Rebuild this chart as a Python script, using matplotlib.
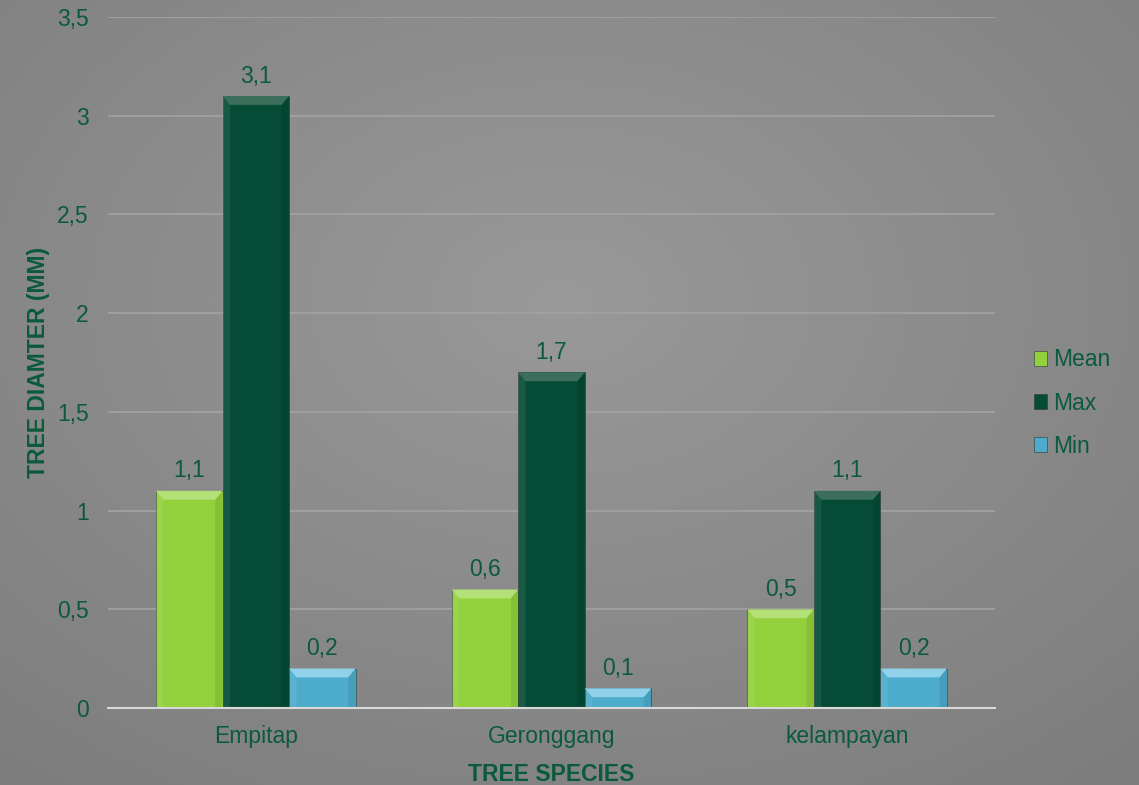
import numpy as np
import matplotlib
matplotlib.use("Agg")
import matplotlib.pyplot as plt
from matplotlib.patches import Polygon

categories = ["Empitap", "Geronggang", "kelampayan"]
series_names = ["Mean", "Max", "Min"]
mean_vals = [1.1, 0.6, 0.5]
max_vals = [3.1, 1.7, 1.1]
min_vals = [0.2, 0.1, 0.2]
value_labels = {"Mean": ["1,1", "0,6", "0,5"], "Max": ["3,1", "1,7", "1,1"], "Min": ["0,2", "0,1", "0,2"]}
yticks = [0, 0.5, 1, 1.5, 2, 2.5, 3, 3.5]
ytick_labels = ["0", "0,5", "1", "1,5", "2", "2,5", "3", "3,5"]

plt.rcParams['font.family'] = ['Liberation Sans', 'DejaVu Sans']
txt = "#0b5a3c"
colors = {"Mean": "#92d13c", "Max": "#054b36", "Min": "#4daccc"}
tops = {"Mean": "#b4e078", "Max": "#3c6e5c", "Min": "#8fd2ea"}
FS = 16.5

fig = plt.figure(figsize=(11.39, 7.85), dpi=100)
bg = fig.add_axes([0, 0, 1, 1])
yy, xx = np.mgrid[0:785, 0:1139]
r = np.sqrt(((xx - 560) / 800.0) ** 2 + ((yy - 300) / 560.0) ** 2)
g = np.clip(0.60 - 0.10 * r, 0.49, 0.60)
bg.imshow(np.dstack([g, g, g]), aspect='auto', extent=[0, 1, 0, 1])
bg.set_axis_off()

ax = fig.add_axes([108 / 1139, 1 - 708 / 785, (995 - 108) / 1139, (708 - 17) / 785])
ax.set_facecolor('none')
x = np.arange(len(categories))
w = 0.225
data = {"Mean": mean_vals, "Max": max_vals, "Min": min_vals}
handles = []
for i, name in enumerate(series_names):
    bars = ax.bar(x + (i - 1) * w, data[name], w, color=colors[name], zorder=3,
                  edgecolor='#2a3a30', linewidth=0.4, label=name)
    handles.append(bars)
    for b, lab in zip(bars, value_labels[name]):
        bx, bw, bh = b.get_x(), b.get_width(), b.get_height()
        dx, dy = 0.025, 0.045
        dy2 = min(dy, bh / 2)
        ax.add_patch(Polygon([(bx, bh), (bx + bw, bh), (bx + bw - dx, bh - dy2), (bx + dx, bh - dy2)],
                             closed=True, facecolor=tops[name], edgecolor='none', zorder=4))
        ax.add_patch(Polygon([(bx, 0), (bx, bh), (bx + dx, bh - dy2), (bx + dx, 0)],
                             closed=True, facecolor='white', alpha=0.08, edgecolor='none', zorder=4))
        ax.add_patch(Polygon([(bx + bw, 0), (bx + bw, bh), (bx + bw - dx, bh - dy2), (bx + bw - dx, 0)],
                             closed=True, facecolor='black', alpha=0.08, edgecolor='none', zorder=4))
        ax.annotate(lab, (bx + bw / 2, bh), xytext=(0, 6), textcoords='offset points',
                    ha='center', va='bottom', fontsize=FS, color=txt, zorder=5)

ax.set_xlim(-0.5, 2.5)
ax.set_ylim(0, 3.5)
ax.set_yticks(yticks)
ax.set_yticklabels(ytick_labels)
ax.set_xticks(x)
ax.set_xticklabels(categories)
ax.tick_params(axis='both', length=0, labelsize=FS, labelcolor=txt)
ax.tick_params(axis='y', pad=14)
ax.tick_params(axis='x', pad=12)
ax.yaxis.grid(True, color='#a3a3a3', linewidth=1.2, zorder=0)
ax.set_axisbelow(True)
for s in ['top', 'right', 'left']:
    ax.spines[s].set_visible(False)
ax.spines['bottom'].set_color('#d9d9d9')
ax.spines['bottom'].set_linewidth(1.5)
ax.spines['bottom'].set_zorder(6)

ax.set_ylabel("TREE DIAMTER (MM)", fontsize=FS, fontweight='bold', color=txt, labelpad=5)
ax.set_xlabel("TREE SPECIES", fontsize=FS, fontweight='bold', color=txt, labelpad=11)

leg = fig.legend(handles=handles, labels=series_names, loc='center left',
                 bbox_to_anchor=(1013 / 1139, 1 - 403 / 785), frameon=False,
                 fontsize=FS, handlelength=0.6, handleheight=0.6, handletextpad=0.25,
                 labelspacing=0.88, labelcolor=txt)

fig.savefig("out.png", dpi=100)
